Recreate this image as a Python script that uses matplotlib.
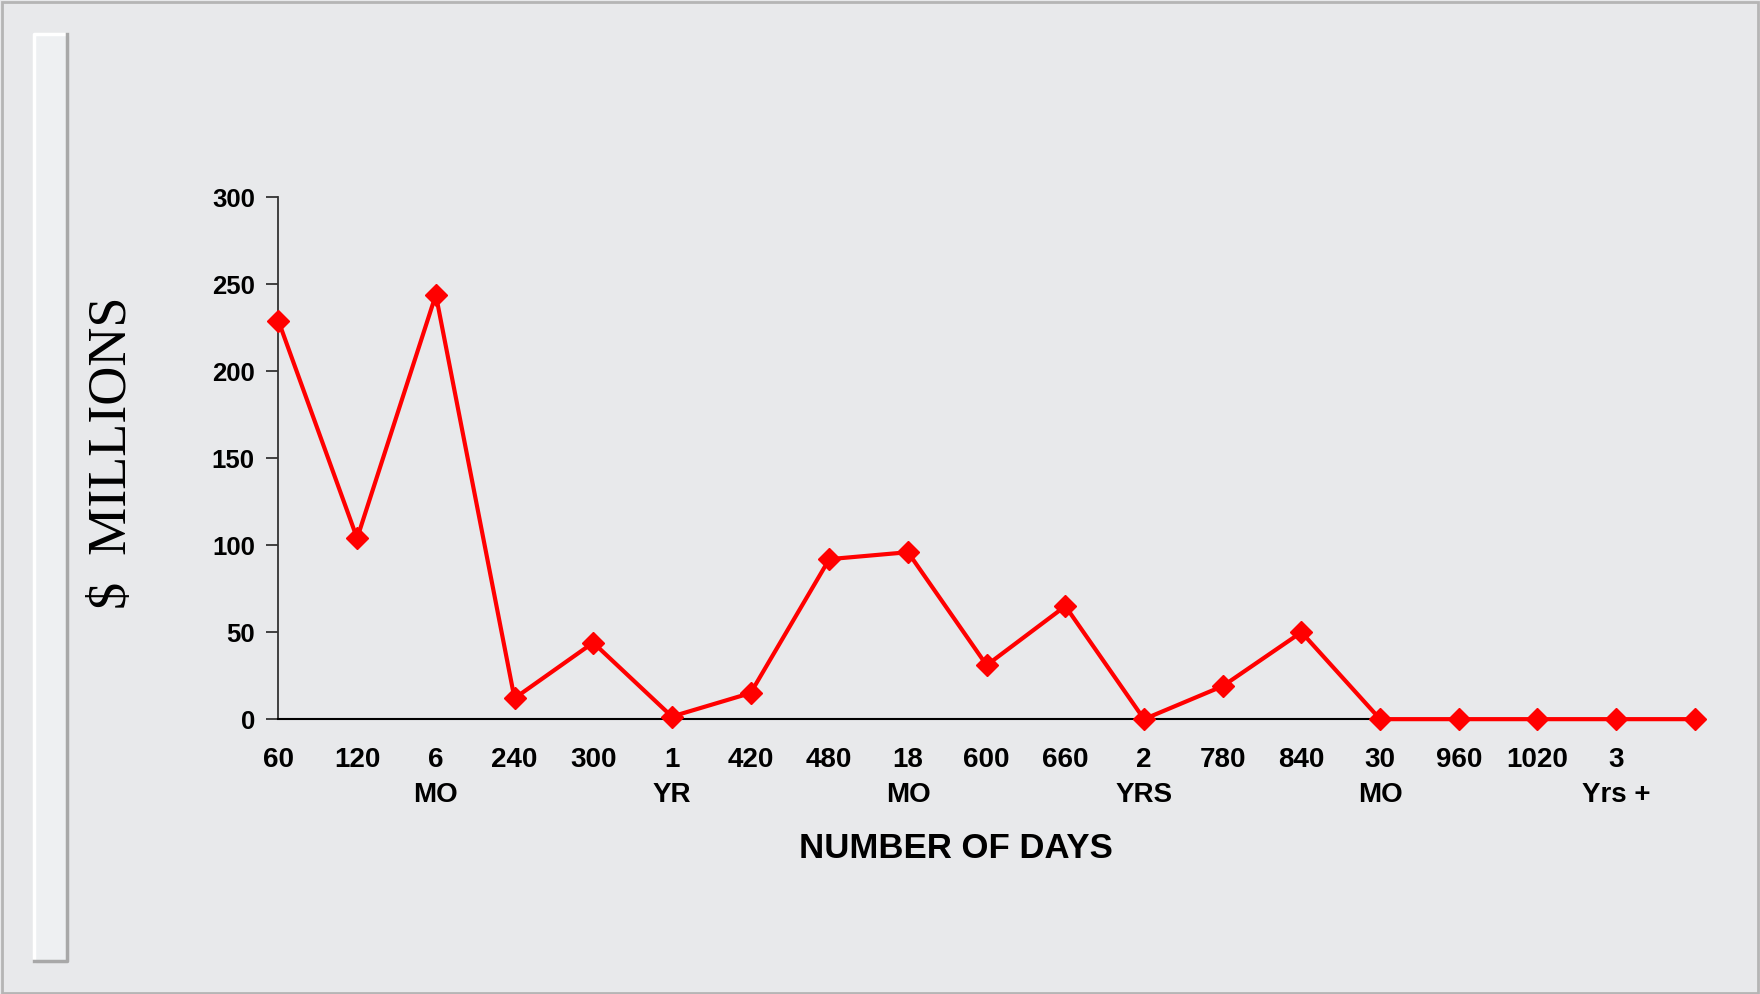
import matplotlib.pyplot as plt
from matplotlib.patches import Rectangle
from matplotlib.lines import Line2D

# Dados
categorias = ['60', '120', '6\nMO', '240', '300', '1\nYR', '420', '480', '18\nMO',
              '600', '660', '2\nYRS', '780', '840', '30\nMO', '960', '1020', '3\nYrs +']
valores = [229, 104, 244, 12, 44, 1.5, 15, 92, 96, 31, 65, 0, 19, 50, 0, 0, 0, 0, 0]
y_ticks = [0, 50, 100, 150, 200, 250, 300]

fundo = '#e8e9eb'
vermelho = '#ff0000'

fig = plt.figure(figsize=(17.6, 9.94), dpi=100, facecolor=fundo)

# Moldura externa e barra decorativa da esquerda
fig.patches.append(Rectangle((0.001, 0.001), 0.998, 0.997, transform=fig.transFigure,
                             fill=False, edgecolor='#b5b5b5', linewidth=2))
x0, x1 = 0.0191, 0.0383
y0, y1 = 0.0327, 0.966
fig.patches.append(Rectangle((x0, y0), x1 - x0, y1 - y0, transform=fig.transFigure,
                             facecolor='#eef0f2', edgecolor='none'))
fig.lines.append(Line2D([x0, x0, x1], [y0, y1, y1], transform=fig.transFigure,
                        color='white', linewidth=2.5))
fig.lines.append(Line2D([x0, x1, x1], [y0, y0, y1], transform=fig.transFigure,
                        color='#a8a8a8', linewidth=2.5))

ax = fig.add_axes([0.1582, 0.2765, 0.963 - 0.1582, 0.8014 - 0.2765])
ax.set_facecolor('none')

x = list(range(len(valores)))
ax.plot(x, valores, color=vermelho, linewidth=3, marker='D', markersize=11,
        markerfacecolor=vermelho, markeredgecolor=vermelho, zorder=5, clip_on=False)

ax.set_xlim(0, len(valores) - 1)
ax.set_ylim(0, 300)

for lado in ['top', 'right']:
    ax.spines[lado].set_visible(False)
ax.spines['left'].set_color('#333333')
ax.spines['left'].set_linewidth(1.3)
ax.spines['bottom'].set_color('black')
ax.spines['bottom'].set_linewidth(1.5)

ax.set_yticks(y_ticks)
ax.set_yticklabels([str(v) for v in y_ticks], fontsize=18.5, fontweight='bold',
                   family=['Liberation Sans', 'DejaVu Sans'])
ax.tick_params(axis='y', direction='out', length=9, width=1.3, color='#333333', pad=8)

# rótulos do eixo x (sem marca de tick) + marcas menores até 30 MO
ax.set_xticks(range(len(categorias)))
ax.set_xticklabels(categorias, fontsize=20, fontweight='bold', linespacing=1.45,
                   va='top', family=['Liberation Sans Narrow', 'Liberation Sans'])
ax.tick_params(axis='x', which='major', length=0, pad=20)
ax.set_xticks(range(15), minor=True)
ax.tick_params(axis='x', which='minor', direction='out', length=9, width=1.3, color='black')

fig.text(0.543, 0.146, 'NUMBER OF DAYS', ha='center', va='center', fontsize=25,
         fontweight='bold', family=['Liberation Sans Narrow', 'Liberation Sans'])
fig.text(0.064, 0.545, '$  MILLIONS', ha='center', va='center', rotation=90,
         fontsize=39, family=['Liberation Serif', 'DejaVu Serif'])

fig.savefig('out.png', dpi=100, facecolor=fundo)
